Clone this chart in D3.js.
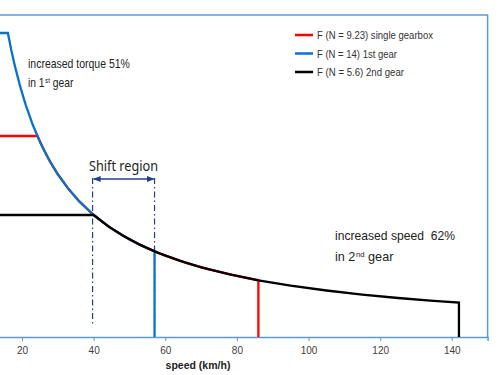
<!DOCTYPE html>
<html>
<head>
<meta charset="utf-8">
<script src="https://cdn.jsdelivr.net/npm/d3@7"></script>
<style>
  body { margin: 0; background: #fff; }
  text { font-family: "Liberation Sans Narrow", "Liberation Sans", Arial, sans-serif; }
</style>
</head>
<body>
<div id="chart"></div>
<script>
// speed (km/h) and tractive force (relative units)
var speedTicks = [20, 40, 60, 80, 100, 120, 140];

var singleSpeed = [0, 24.3, 26, 28, 30, 33, 36, 40, 45, 50, 55, 60, 66, 72, 79, 86, 86];
var singleForce = [201, 201, 187.7, 174.3, 162.7, 147.9, 135.6, 122, 108.4, 97.6, 88.7, 81.3, 73.9, 67.8, 61.8, 56.7, 0];

var firstSpeed = [0, 16.05, 17, 18, 19.5, 21, 23, 25, 27.5, 30, 33, 36, 40, 44, 48, 52, 57, 57];
var firstForce = [304, 304, 287, 271.1, 250.3, 232.4, 212.2, 195.2, 177.5, 162.7, 147.9, 135.6, 122, 110.9, 101.7, 93.8, 85.6, 0];

var secondSpeed = [0, 40, 44, 48, 53, 58, 64, 70, 78, 86, 95, 105, 115, 125, 134, 142, 142];
var secondForce = [122, 122, 110.9, 101.7, 92.1, 84.1, 76.3, 69.7, 62.6, 56.7, 51.4, 46.5, 42.4, 39, 36.4, 34.4, 0];

var seriesNames = ["F (N = 9.23) single gearbox", "F (N = 14) 1st gear", "F (N = 5.6) 2nd gear"];
var seriesColors = ["#ff0000", "#0a72c8", "#000000"];

var shiftRegion = [39.7, 57];

var width = 500, height = 375;

var x = d3.scaleLinear().domain([0, 150]).range([-49.6, 487.6]);
var y = d3.scaleLinear().domain([0, 320]).range([337, 17]);

var svg = d3.select("#chart")
  .append("svg")
  .attr("width", width)
  .attr("height", height);

// frame (left side falls outside the picture)
svg.append("path")
  .attr("d", "M0,15H" + x(150) + "V" + y(0))
  .attr("fill", "none")
  .attr("stroke", "#5b9bd5")
  .attr("stroke-width", 1.5);

// x axis
var xAxis = d3.axisBottom(x).tickValues(speedTicks).tickSize(4).tickPadding(6);
var gx = svg.append("g")
  .attr("transform", "translate(0," + y(0) + ")")
  .call(xAxis);
gx.select(".domain").attr("stroke", "#5b9bd5").attr("stroke-width", 1.5);
gx.selectAll(".tick line").attr("stroke", "#8c8c8c");
gx.selectAll(".tick text")
  .attr("fill", "#404040")
  .style("font-family", "'Liberation Sans', Arial, sans-serif")
  .style("font-size", "10px");

svg.append("text")
  .attr("x", 198)
  .attr("y", 369)
  .attr("text-anchor", "middle")
  .style("font-family", "'Liberation Sans', Arial, sans-serif")
  .style("font-size", "10.5px")
  .style("font-weight", "bold")
  .attr("fill", "#222")
  .text("speed (km/h)");

// shift region markers
var navy = "#203f8a";
shiftRegion.forEach(function (s) {
  svg.append("line")
    .attr("x1", x(s)).attr("x2", x(s))
    .attr("y1", 178).attr("y2", 326)
    .attr("stroke", navy)
    .attr("stroke-width", 1.2)
    .attr("stroke-dasharray", "6,3,1.5,3");
});

var defs = svg.append("defs");
defs.append("marker")
  .attr("id", "arr")
  .attr("viewBox", "0 0 10 10")
  .attr("refX", 9).attr("refY", 5)
  .attr("markerWidth", 6).attr("markerHeight", 6)
  .attr("orient", "auto-start-reverse")
  .append("path")
  .attr("d", "M0,1L10,5L0,9Z")
  .attr("fill", navy);

svg.append("line")
  .attr("x1", x(shiftRegion[0]) + 1).attr("x2", x(shiftRegion[1]) - 1)
  .attr("y1", 179).attr("y2", 179)
  .attr("stroke", navy)
  .attr("stroke-width", 1.3)
  .attr("marker-start", "url(#arr)")
  .attr("marker-end", "url(#arr)");

svg.append("text")
  .attr("x", 89)
  .attr("y", 171)
  .attr("textLength", 69)
  .attr("lengthAdjust", "spacingAndGlyphs")
  .style("font-family", "'Noto Sans', 'Open Sans', sans-serif")
  .style("font-size", "14px")
  .attr("fill", "#222")
  .text("Shift region");

// force curves
var line = d3.line()
  .x(function (d) { return x(d[0]); })
  .y(function (d) { return y(d[1]); });

var series = [
  d3.zip(singleSpeed, singleForce),
  d3.zip(firstSpeed, firstForce),
  d3.zip(secondSpeed, secondForce)
];

svg.selectAll(".curve")
  .data(series)
  .enter()
  .append("path")
  .attr("class", "curve")
  .attr("d", line)
  .attr("fill", "none")
  .attr("stroke", function (d, i) { return seriesColors[i]; })
  .attr("stroke-width", 2.3)
  .attr("stroke-linejoin", "miter");

// legend
var legendWidths = [116, 80, 87];
var legend = svg.append("g").attr("transform", "translate(295,35)");
seriesNames.forEach(function (name, i) {
  var g = legend.append("g").attr("transform", "translate(0," + i * 18.5 + ")");
  g.append("line")
    .attr("x1", 0).attr("x2", 18)
    .attr("stroke", seriesColors[i])
    .attr("stroke-width", 2.5);
  g.append("text")
    .attr("x", 22)
    .attr("y", 4)
    .attr("textLength", legendWidths[i])
    .attr("lengthAdjust", "spacingAndGlyphs")
    .style("font-size", "11.5px")
    .attr("fill", "#333")
    .text(name);
});

// annotations: narrow look by squeezing the whole line horizontally
function squeeze(t, xp, yp, len) {
  var w = t.node().getComputedTextLength();
  t.attr("transform", "translate(" + xp + "," + yp + ") scale(" + (len / w) + ",1)");
}

function plain(xp, yp, str, len) {
  var t = svg.append("text")
    .style("font-size", "13px")
    .style("white-space", "pre")
    .attr("fill", "#222")
    .text(str);
  squeeze(t, xp, yp, len);
}

function note(xp, yp, first, sup, rest, len) {
  var t = svg.append("text")
    .style("font-size", "13px")
    .attr("fill", "#222");
  t.append("tspan").text(first);
  t.append("tspan").attr("dx", 0.5).attr("dy", -4).style("font-size", "8px").text(sup);
  t.append("tspan").attr("dy", 4).text(rest);
  squeeze(t, xp, yp, len);
}

plain(28, 68, "increased torque 51%", 102);
note(28, 86.5, "in 1", "st", " gear", 45);

plain(335, 240, "increased speed  62%", 120);
note(335, 261, "in 2", "nd", " gear", 58);
</script>
</body>
</html>
